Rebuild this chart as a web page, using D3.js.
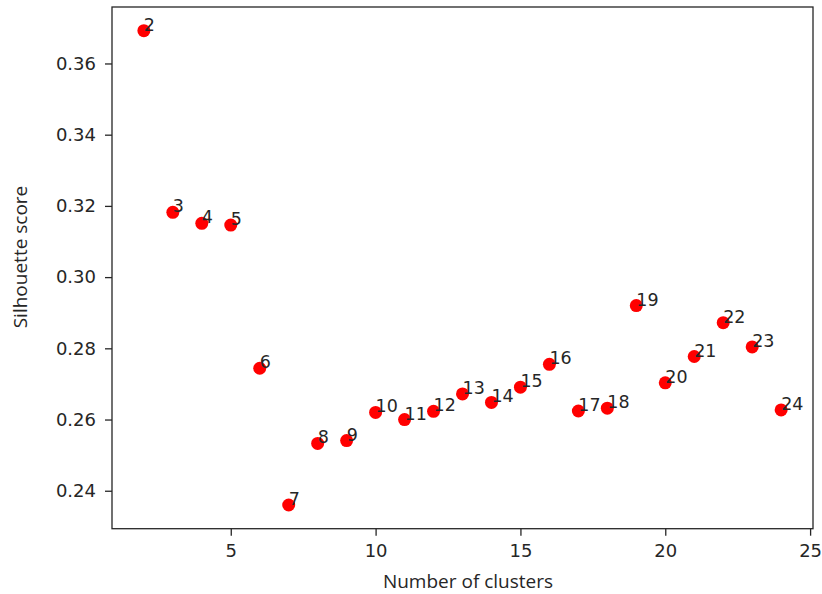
<!DOCTYPE html>
<html>
<head>
<meta charset="utf-8">
<script src="https://cdn.jsdelivr.net/npm/d3@7/dist/d3.min.js"></script>
<style>
  html, body { margin: 0; padding: 0; background: #fff; }
  svg { display: block; }
  text { font-family: "DejaVu Sans", sans-serif; fill: #262626; }
</style>
</head>
<body>
<svg id="chart" width="822" height="594"></svg>
<script>
const clusters = [2, 3, 4, 5, 6, 7, 8, 9, 10, 11, 12, 13, 14, 15, 16, 17, 18, 19, 20, 21, 22, 23, 24];
const scores = [0.3692, 0.3182, 0.3151, 0.3146, 0.2744, 0.2360, 0.2533, 0.2541, 0.2620, 0.2600, 0.2623,
                0.2672, 0.2648, 0.2691, 0.2755, 0.2624, 0.2632, 0.2920, 0.2703, 0.2777, 0.2872, 0.2804, 0.2627];
const xTicks = [5, 10, 15, 20, 25];
const yTicks = [0.24, 0.26, 0.28, 0.30, 0.32, 0.34, 0.36];
const xLabel = "Number of clusters";
const yLabel = "Silhouette score";

(function () {
const data = clusters.map((c, i) => ({ k: c, s: scores[i] }));

const svg = d3.select("#chart");
const pL = 112, pR = 813, pT = 7, pB = 528.7;

function padded(ext) {
  const r = ext[1] - ext[0];
  return [ext[0] - 0.05 * r, ext[1] + 0.05 * r];
}

const x = d3.scaleLinear().domain(padded(d3.extent(clusters))).range([pL, pR]);
const y = d3.scaleLinear().domain(padded(d3.extent(scores))).range([pB, pT]);

svg.append("rect")
  .attr("x", pL).attr("y", pT)
  .attr("width", pR - pL).attr("height", pB - pT)
  .attr("fill", "none").attr("stroke", "#262626").attr("stroke-width", 1.3);

const xAxis = d3.axisBottom(x).tickValues(xTicks).tickFormat(d3.format("d")).tickSize(7).tickPadding(9);
const gx = svg.append("g").attr("transform", `translate(0,${pB})`).call(xAxis);
gx.select(".domain").remove();
gx.selectAll("line").attr("stroke", "#262626").attr("stroke-width", 1.3);
gx.selectAll("text").style("font-size", "18px").attr("fill", "#262626");

const yAxis = d3.axisLeft(y).tickValues(yTicks).tickFormat(d3.format(".2f")).tickSize(7).tickPadding(9);
const gy = svg.append("g").attr("transform", `translate(${pL},0)`).call(yAxis);
gy.select(".domain").remove();
gy.selectAll("line").attr("stroke", "#262626").attr("stroke-width", 1.3);
gy.selectAll("text").style("font-size", "18px").attr("fill", "#262626");

svg.selectAll("circle.pt").data(data).enter().append("circle")
  .attr("class", "pt")
  .attr("cx", d => x(d.k)).attr("cy", d => y(d.s))
  .attr("r", 6.5).attr("fill", "#ff0000");

svg.selectAll("text.lbl").data(data).enter().append("text")
  .attr("class", "lbl")
  .attr("x", d => x(d.k)).attr("y", d => y(d.s))
  .style("font-size", "17.5px")
  .text(d => d.k);

svg.append("text")
  .attr("x", 468).attr("y", 587.5)
  .attr("text-anchor", "middle")
  .style("font-family", "'Open Sans', sans-serif").style("font-size", "19px")
  .text(xLabel);

svg.append("text")
  .attr("transform", `translate(27,257) rotate(-90)`)
  .attr("text-anchor", "middle")
  .style("font-family", "'Open Sans', sans-serif").style("font-size", "19px")
  .text(yLabel);
})();
</script>
</body>
</html>
